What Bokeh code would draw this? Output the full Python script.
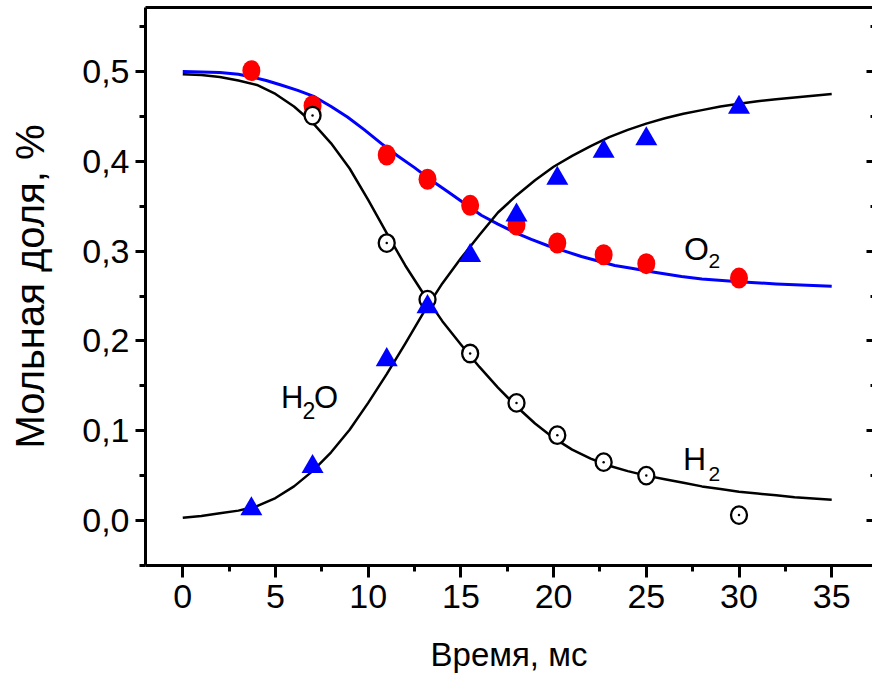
from bokeh.plotting import figure
from bokeh.models import (Range1d, LinearAxis, FixedTicker, CustomJSTickFormatter, Label)
from bokeh.embed import file_html
from bokeh.resources import INLINE

# ---- data ----
time_pts = [3.7, 7.0, 11.0, 13.2, 15.5, 18.0, 20.2, 22.7, 25.0, 30.0]
o2_pts = [0.501, 0.462, 0.407, 0.380, 0.351, 0.329, 0.309, 0.296, 0.286, 0.270]
h2_time = [7.0, 11.0, 13.2, 15.5, 18.0, 20.2, 22.7, 25.0, 30.0]
h2_pts = [0.451, 0.309, 0.246, 0.186, 0.131, 0.095, 0.065, 0.050, 0.006]
h2o_pts = [0.013, 0.060, 0.179, 0.238, 0.295, 0.340, 0.381, 0.411, 0.425, 0.460]

o2_fit_t = [0, 1, 2, 3, 3.7, 4.5, 5.3, 6.2, 7.1, 8.0, 8.9, 9.8, 10.7, 11.6, 12.5,
            13.4, 14.3, 15.2, 16.1, 17.0, 17.9, 18.8, 19.7, 20.6, 21.5, 22.4,
            23.3, 24.2, 25.1, 26.9, 28, 30, 32, 35]
o2_fit = [0.500, 0.4995, 0.499, 0.497, 0.494, 0.490, 0.485, 0.479, 0.472, 0.461,
          0.449, 0.435, 0.420, 0.406, 0.393, 0.379, 0.366, 0.353, 0.340, 0.330,
          0.321, 0.313, 0.306, 0.300, 0.294, 0.289, 0.284, 0.281, 0.2776, 0.2717,
          0.269, 0.266, 0.2635, 0.261]

h2_fit_t = [0, 1, 2, 3, 4, 5, 6, 7, 8, 9, 10, 11, 12, 13, 14, 15, 16, 17, 18,
            19, 20, 21, 22, 23, 24, 25, 26, 27, 28, 29, 30, 31, 32, 33, 34, 35]
h2_fit = [0.497, 0.496, 0.494, 0.490, 0.485, 0.475, 0.461, 0.443, 0.420, 0.392,
          0.357, 0.320, 0.284, 0.252, 0.222, 0.196, 0.171, 0.148, 0.127, 0.108,
          0.092, 0.079, 0.069, 0.061, 0.055, 0.050, 0.046, 0.042, 0.038, 0.035,
          0.032, 0.030, 0.028, 0.026, 0.0245, 0.023]

h2o_fit_t = [0, 1, 2, 3, 4, 5, 6, 7, 8, 9, 10, 11, 12, 13, 14, 15, 16, 17, 18,
             19, 20, 21, 22, 23, 24, 25, 26, 27, 28, 29, 30, 31, 32, 33, 34, 35]
h2o_fit = [0.003, 0.005, 0.008, 0.011, 0.016, 0.025, 0.038, 0.055, 0.076, 0.101,
           0.131, 0.163, 0.197, 0.232, 0.264, 0.292, 0.318, 0.343, 0.362, 0.379,
           0.394, 0.406, 0.417, 0.427, 0.435, 0.442, 0.448, 0.453, 0.457, 0.461,
           0.464, 0.467, 0.469, 0.471, 0.473, 0.475]

x_ticks = [0, 5, 10, 15, 20, 25, 30, 35]
x_minor = [2.5, 7.5, 12.5, 17.5, 22.5, 27.5, 32.5]
y_ticks = [0.0, 0.1, 0.2, 0.3, 0.4, 0.5]
y_minor = [-0.05, 0.05, 0.15, 0.25, 0.35, 0.45, 0.55]

FONT = "Liberation Sans"

p = figure(width=872, height=680, output_backend="svg", toolbar_location=None,
           x_range=Range1d(-2.01, 37.2), y_range=Range1d(-0.0501, 0.5713),
           min_border_left=145, min_border_right=0, min_border_top=7,
           min_border_bottom=115, x_axis_location=None, y_axis_location=None)
p.grid.visible = False
p.outline_line_color = None
p.background_fill_color = "white"
p.border_fill_color = "white"

fmt_y = CustomJSTickFormatter(code="return tick.toFixed(1).replace('.', ',');")

xa = LinearAxis(ticker=FixedTicker(ticks=x_ticks, minor_ticks=x_minor))
xa.axis_label = "Время, мс"
ya = LinearAxis(ticker=FixedTicker(ticks=y_ticks, minor_ticks=y_minor), formatter=fmt_y)
ya.axis_label = "Мольная доля, %"
for ax in (xa, ya):
    ax.axis_line_width = 3
    ax.major_tick_line_width = 3
    ax.minor_tick_line_width = 3
    ax.major_tick_in = 0
    ax.minor_tick_in = 0
    ax.major_label_text_font = FONT
    ax.major_label_text_font_size = "34px"
    ax.major_label_text_color = "black"
    ax.axis_label_text_font = FONT
    ax.axis_label_text_font_style = "normal"
    ax.axis_label_text_color = "black"
xa.axis_label_text_font_size = "33px"
ya.axis_label_text_font_size = "40px"
xa.major_tick_out = 12
xa.minor_tick_out = 6
xa.major_label_standoff = 7
xa.axis_label_standoff = 25
ya.major_tick_out = 10
ya.minor_tick_out = 6
ya.major_label_standoff = 6
ya.axis_label_standoff = 27
p.add_layout(xa, "below")
p.add_layout(ya, "left")

ra = LinearAxis(ticker=FixedTicker(ticks=y_ticks, minor_ticks=y_minor))
ra.axis_line_color = None
ra.major_label_text_color = None
ra.major_tick_in = 6
ra.major_tick_out = 0
ra.minor_tick_in = 2
ra.minor_tick_out = 0
ra.major_tick_line_width = 3
ra.minor_tick_line_width = 3
p.add_layout(ra, "right")

ta = LinearAxis(ticker=FixedTicker(ticks=[]))
ta.axis_line_width = 3
ta.major_label_text_color = None
ta.major_tick_line_color = None
ta.minor_tick_line_color = None
p.add_layout(ta, "above")

# curves
p.line(o2_fit_t, o2_fit, line_color="#0000ff", line_width=3, line_join="round")
p.line(h2_fit_t, h2_fit, line_color="black", line_width=2.5, line_join="round")
p.line(h2o_fit_t, h2o_fit, line_color="black", line_width=2.5, line_join="round")

# markers
p.ellipse(x=time_pts, y=o2_pts, width=18, height=21, width_units="screen",
          height_units="screen", fill_color="#ff0000", line_color=None)
p.ellipse(x=h2_time, y=h2_pts, width=16, height=17.5, width_units="screen",
          height_units="screen", fill_color="white", line_color="black", line_width=2.3)
p.scatter(x=h2_time, y=h2_pts, marker="circle", size=2.5, fill_color="black", line_color=None)
p.scatter(x=time_pts, y=h2o_pts, marker="triangle", size=22, fill_color="#0000ff",
          line_color=None)

def lab(x, y, t, size):
    p.add_layout(Label(x=x, y=y, text=t, text_font=FONT, text_font_size=size,
                       text_color="black", text_baseline="alphabetic", text_align="left"))

lab(27.03, 0.3026, "O", "32px")
lab(28.35, 0.2895, "2", "21px")
lab(5.3, 0.1373, "H", "31px")
lab(6.457, 0.1225, "2", "23px")
lab(7.077, 0.1373, "O", "31px")
lab(26.98, 0.0687, "H", "32px")
lab(28.36, 0.0523, "2", "21px")

open("out.html", "w").write(file_html(p, INLINE))
